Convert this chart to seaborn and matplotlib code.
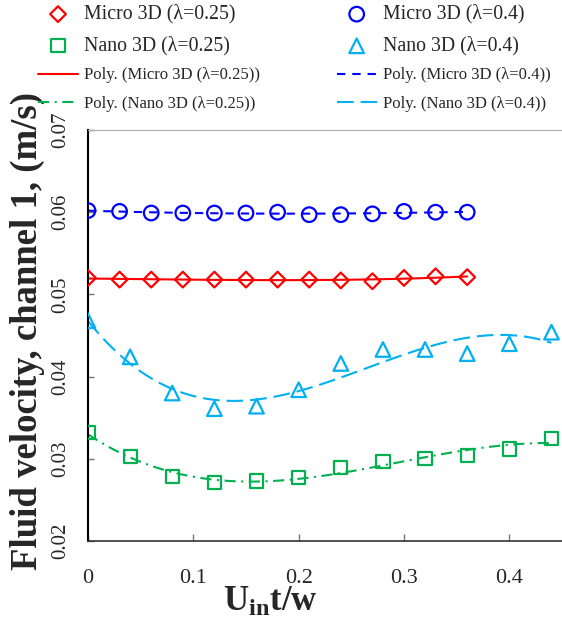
import numpy as np
import pandas as pd
import matplotlib
matplotlib.use('Agg')
import matplotlib.pyplot as plt
import seaborn as sns

# 그림에서 읽어낸 값
t_micro = [0, 0.03, 0.06, 0.09, 0.12, 0.15, 0.18, 0.21, 0.24, 0.27, 0.30, 0.33, 0.36]
t_nano = [0, 0.04, 0.08, 0.12, 0.16, 0.20, 0.24, 0.28, 0.32, 0.36, 0.40, 0.44]

micro_025 = [0.0520, 0.0518, 0.0518, 0.0518, 0.0518, 0.0518, 0.0518, 0.0518, 0.0517, 0.0516, 0.0520, 0.0522, 0.0521]
micro_04 = [0.0602, 0.0601, 0.0599, 0.0599, 0.0599, 0.0599, 0.0600, 0.0597, 0.0597, 0.0598, 0.0601, 0.0600, 0.0600]
nano_025 = [0.0332, 0.0303, 0.0278, 0.0271, 0.0273, 0.0277, 0.0289, 0.0297, 0.0300, 0.0304, 0.0312, 0.0325]
nano_04 = [0.0468, 0.0424, 0.0380, 0.0361, 0.0364, 0.0384, 0.0416, 0.0433, 0.0433, 0.0428, 0.0440, 0.0454]

labels = ['Micro 3D (λ=0.25)', 'Nano 3D (λ=0.25)', 'Micro 3D (λ=0.4)', 'Nano 3D (λ=0.4)']
colors = ['#FF0000', '#00B050', '#0000FF', '#00B0F0']
xticks = [0, 0.1, 0.2, 0.3, 0.4]
xtick_labels = ['0', '0.1', '0.2', '0.3', '0.4']
yticks = [0.02, 0.03, 0.04, 0.05, 0.06, 0.07]
ytick_labels = ['0.02', '0.03', '0.04', '0.05', '0.06', '0.07']

sns.set_style('ticks')
plt.rcParams['font.family'] = ['Liberation Serif', 'DejaVu Serif']
plt.rcParams['mathtext.fontset'] = 'custom'
plt.rcParams['mathtext.rm'] = 'Liberation Serif'
plt.rcParams['mathtext.bf'] = 'Liberation Serif:bold'
plt.rcParams['lines.scale_dashes'] = False

fig = plt.figure(figsize=(5.62, 6.22), dpi=100)
ax = fig.add_axes([88/562, 81/622, 474/562, 411/622])

series = [
    (t_micro, micro_025, labels[0], colors[0], 'D', 8, (None, None)),
    (t_nano, nano_025, labels[1], colors[1], 's', 9.5, (8, 4, 1.5, 4)),
    (t_micro, micro_04, labels[2], colors[2], 'o', 10.5, (6, 5)),
    (t_nano, nano_04, labels[3], colors[3], '^', 10.5, (12, 5)),
]

# 마커 (속 빈 마커)
for x, y, lab, c, m, ms, _ in series:
    sns.scatterplot(x=x, y=y, marker=m, s=ms**2, facecolor='none', edgecolor=c,
                    linewidth=1.6, label=lab, legend=False, ax=ax, zorder=3)

# 다항 추세선 (엑셀 Poly. 3차)
for x, y, lab, c, m, ms, dash in series:
    kw = dict(lw=1.5)
    if dash[0] is not None:
        kw['dashes'] = dash
    sns.regplot(x=np.array(x), y=np.array(y), order=3, ci=None, scatter=False,
                color=c, label=f'Poly. ({lab})', line_kws=kw, ax=ax, truncate=True)

ax.set_xlim(0, 0.45)
ax.set_ylim(0.02, 0.07)
ax.set_xticks(xticks)
ax.set_xticklabels(xtick_labels)
ax.set_yticks(yticks)
ax.set_yticklabels(ytick_labels)
ax.tick_params(axis='x', direction='in', length=5, width=1, color='#777777', labelsize=16, pad=20)
ax.tick_params(axis='y', direction='in', length=4, width=1, color='#777777', labelsize=15, pad=13, labelrotation=90)
for lbl in ax.get_yticklabels():
    lbl.set_va('center')

ax.spines['right'].set_visible(False)
ax.spines['top'].set_color('#AAAAAA')
ax.spines['top'].set_linewidth(0.8)
ax.spines['left'].set_color('black')
ax.spines['left'].set_linewidth(1.5)
ax.spines['bottom'].set_color('#333333')
ax.spines['bottom'].set_linewidth(1.2)

ax.set_xlabel(r'$\mathbf{U_{in}t/w}$', fontsize=25)
ax.xaxis.set_label_coords(0.385, -0.11)
ax.set_ylabel('Fluid velocity, channel 1, (m/s)', fontsize=26.5, fontweight='bold')
ax.yaxis.set_label_coords(-0.09, 0.51)

# 범례 (2열, 그래프 위쪽)
h, l = ax.get_legend_handles_labels()
idx = {lab: i for i, lab in enumerate(l)}
order = [labels[0], labels[1], 'Poly. (' + labels[0] + ')', 'Poly. (' + labels[1] + ')',
         labels[2], labels[3], 'Poly. (' + labels[2] + ')', 'Poly. (' + labels[3] + ')']
leg = fig.legend([h[idx[o]] for o in order], order, ncol=2, loc='upper left',
                 bbox_to_anchor=(38/562, 1 - 4/622), frameon=False, fontsize=12,
                 handlelength=2.4, handletextpad=0.36, columnspacing=4.6,
                 labelspacing=0.73, borderpad=0, borderaxespad=0, scatterpoints=1)
for i in [0, 1, 4, 5]:
    leg.get_texts()[i].set_fontsize(14.3)

fig.savefig('out.png', dpi=100)
